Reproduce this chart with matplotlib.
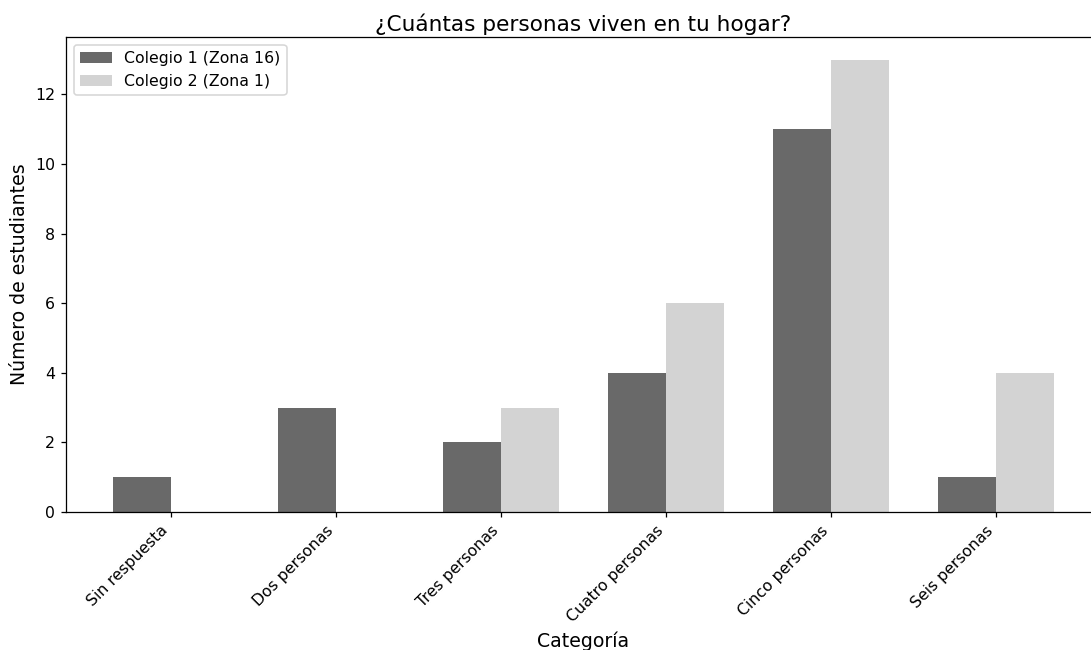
import numpy as np
import matplotlib.pyplot as plt

categorias = ['Sin respuesta', 'Dos personas', 'Tres personas',
              'Cuatro personas', 'Cinco personas', 'Seis personas']
colegio1 = [1, 3, 2, 4, 11, 1]
colegio2 = [0, 0, 3, 6, 13, 4]

DPI = 113
fig = plt.figure(figsize=(1091 / DPI, 650 / DPI), dpi=DPI)
# the reference is cropped on the right, so the axes run past the figure edge
ax = fig.add_axes([66 / 1091, 138 / 650, 1035 / 1091, 475 / 650])

x = np.arange(len(categorias))
width = 0.35
ax.bar(x - width / 2, colegio1, width, color='dimgray', label='Colegio 1 (Zona 16)')
ax.bar(x + width / 2, colegio2, width, color='lightgray', label='Colegio 2 (Zona 1)')

ax.set_title('¿Cuántas personas viven en tu hogar?', fontsize=13.8, pad=4)
ax.set_xlabel('Categoría', fontsize=12)
ax.set_ylabel('Número de estudiantes', fontsize=12)
ax.set_xticks(x)
ax.set_xticklabels(categorias, rotation=45, ha='right')
ax.legend(loc='upper left')

fig.savefig('out.png', dpi=DPI)
